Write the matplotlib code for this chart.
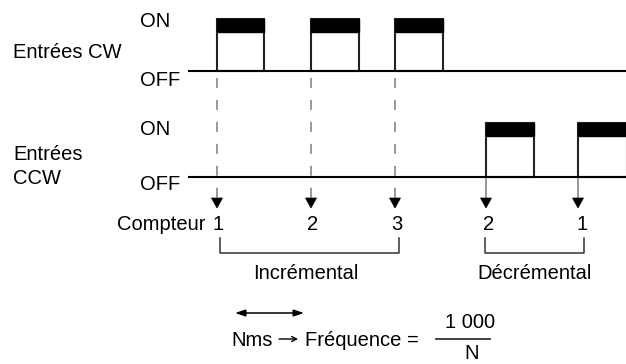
import matplotlib
matplotlib.use("Agg")
import matplotlib.pyplot as plt
from matplotlib.patches import Rectangle, Polygon

plt.rcParams['font.family'] = ['Liberation Sans', 'DejaVu Sans']
plt.rcParams['lines.scale_dashes'] = False

# ---- data (time positions on the diagram, pixel-like units) ----
cw_rise = [217, 311, 395]
cw_fall = [264, 359, 443]
ccw_rise = [486, 578]
ccw_fall = [534, 627]
counter_x = [218, 313, 397, 489, 582]
counter_labels = ['1', '2', '3', '2', '1']
inc_span = [220, 399]
dec_span = [485, 584]
row_labels = ['Entrées CW', 'Entrées\nCCW']
level_labels = ['ON', 'OFF']

# layout levels
CW_LOW, CW_HIGH = 71, 19
CCW_LOW, CCW_HIGH = 177, 123
BAND = 13
ARROW_Y = 203
FS = 14.5

fig = plt.figure(figsize=(6.26, 3.64), dpi=100)
ax = fig.add_axes([0, 0, 1, 1])
ax.set_xlim(0, 626)
ax.set_ylim(364, 0)
ax.axis('off')

def txt(x, yc, s, ha='left', fs=FS, **kw):
    ax.text(x, yc + 0.36 * fs * 100 / 72, s, ha=ha, va='baseline', fontsize=fs,
            color='black', **kw)

# row labels
txt(13, 51, row_labels[0])
txt(13, 153, 'Entrées')
txt(13, 177, 'CCW')
txt(140, 20, level_labels[0])
txt(140, 79, level_labels[1])
txt(140, 128, level_labels[0])
txt(140, 183, level_labels[1])

# baselines
ax.plot([188, 626], [CW_LOW, CW_LOW], color='black', lw=1.5, solid_capstyle='butt', zorder=3)
ax.plot([188, 626], [CCW_LOW, CCW_LOW], color='black', lw=1.5, solid_capstyle='butt', zorder=3)

def pulses(rises, falls, low, high):
    for r, f in zip(rises, falls):
        ax.add_patch(Rectangle((r, high), f - r, low - high, facecolor='white',
                               edgecolor='#222222', lw=1.5, zorder=2))
        ax.add_patch(Rectangle((r, high), f - r, BAND, facecolor='black',
                               edgecolor='black', lw=1.0, zorder=2))

pulses(cw_rise, cw_fall, CW_LOW, CW_HIGH)
pulses(ccw_rise, ccw_fall, CCW_LOW, CCW_HIGH)

# dashed projections from CW pulses
for x in cw_rise:
    ax.plot([x, x], [78, ARROW_Y - 4], color='#999999', lw=1.4,
            linestyle=(0, (7.2, 8.6)), zorder=1)
# solid projections from CCW pulses
for x in ccw_rise:
    ax.plot([x, x], [CCW_LOW, ARROW_Y - 4], color='#888888', lw=1.2, zorder=1)

# arrow heads
for x in cw_rise + ccw_rise:
    ax.add_patch(Polygon([[x - 5.5, ARROW_Y - 5], [x + 5.5, ARROW_Y - 5], [x, ARROW_Y + 5]],
                         closed=True, facecolor='black', edgecolor='black', lw=0.5, zorder=4))

# counter
txt(205, 223, 'Compteur', ha='right')
for x, lab in zip(counter_x, counter_labels):
    txt(x, 223, lab, ha='center')

# brackets
for (a, b) in (inc_span, dec_span):
    ax.plot([a, a, b, b], [238, 253, 253, 238], color='#333333', lw=1.1)
txt((inc_span[0] + inc_span[1]) / 2 - 4, 272, 'Incrémental', ha='center')
txt((dec_span[0] + dec_span[1]) / 2, 272, 'Décrémental', ha='center')

# double arrow for period N ms
ax.annotate('', xy=(304, 313), xytext=(235, 313),
            arrowprops=dict(arrowstyle='<|-|>,head_length=0.6,head_width=0.2',
                            color='black', lw=1.1, shrinkA=0, shrinkB=0))

# formula
txt(231, 339, 'Nms')
ax.annotate('', xy=(298, 339), xytext=(279, 339),
            arrowprops=dict(arrowstyle='->,head_length=0.35,head_width=0.18',
                            color='black', lw=1.0, shrinkA=0, shrinkB=0))
txt(305, 339, 'Fréquence =')
txt(470, 321, '1 000', ha='center')
ax.plot([436, 490], [339, 339], color='#333333', lw=1.3)
txt(472, 352, 'N', ha='center')

fig.savefig('out.png', dpi=100)
